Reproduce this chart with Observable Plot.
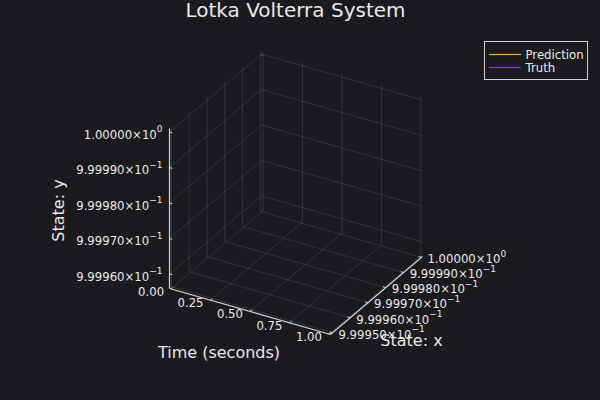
<!DOCTYPE html>
<html><head><meta charset="utf-8">
<script src="https://cdn.jsdelivr.net/npm/d3@7"></script>
<script src="https://cdn.jsdelivr.net/npm/@observablehq/plot@0.6"></script>
<style>
html,body{margin:0;padding:0;background:#1b1a1f;}
#chart{position:relative;width:600px;height:400px;font-family:"DejaVu Sans",sans-serif;overflow:hidden;}
#legend{position:absolute;left:484px;top:41px;width:102px;height:37px;border:1px solid #cfcfcf;background:#1b1a1f;}
#legend svg{position:absolute;left:0;top:0;}
</style></head><body><div id="chart"></div>
<script>
// ---- data ----
const title = "Lotka Volterra System";
const seriesNames = ["Prediction", "Truth"];
const prediction = [{t: 0, x: 1, y: 1}];
const truth = [{t: 0, x: 1, y: 1}];
const tTicks = [0, 0.25, 0.5, 0.75, 1];
const tTickLabels = ["0.00", "0.25", "0.50", "0.75", "1.00"];
const xTicks = [0.99995, 0.99996, 0.99997, 0.99998, 0.99999, 1.0];
const xTickLabels = ["9.99950×10^−1", "9.99960×10^−1", "9.99970×10^−1", "9.99980×10^−1", "9.99990×10^−1", "1.00000×10^0"];
const yTicks = [0.99996, 0.99997, 0.99998, 0.99999, 1.0];
const yTickLabels = ["9.99960×10^−1", "9.99970×10^−1", "9.99980×10^−1", "9.99990×10^−1", "1.00000×10^0"];
const tLimits = [-0.01, 1.01];
const xLimits = [0.9999489, 1.0000006];
const yLimits = [0.9999559, 1.0000010];
const axisTitles = {t: "Time (seconds)", x: "State: x", y: "State: y"};

// ---- style ----
const bg = "#1b1a1f";
const seriesColors = ["#f0b400", "#8c2be2"];
const fg = "#e8e8e8";

// ---- 3D projection (layout) ----
const O = [169, 288], T = [161, 46], X = [92, -78], Y = [0, -160];
const nt = d3.scaleLinear(tLimits, [0, 1]);
const nx = d3.scaleLinear(xLimits, [0, 1]);
const ny = d3.scaleLinear(yLimits, [0, 1]);
function proj(t, x, y) {
  const a = nt(t), b = nx(x), c = ny(y);
  return [O[0] + a * T[0] + b * X[0] + c * Y[0], O[1] + a * T[1] + b * X[1] + c * Y[1]];
}
function seg(p, q) { const A = proj(...p), B = proj(...q); return {x1: A[0], y1: A[1], x2: B[0], y2: B[1]}; }
const [t0, t1] = tLimits, [x0, x1] = xLimits, [y0, y1] = yLimits;

const grid = [];
for (const t of tTicks) { grid.push(seg([t, x1, y0], [t, x1, y1])); grid.push(seg([t, x0, y0], [t, x1, y0])); }
for (const x of xTicks) { grid.push(seg([t0, x, y0], [t0, x, y1])); grid.push(seg([t0, x, y0], [t1, x, y0])); }
for (const y of yTicks) { grid.push(seg([t0, x1, y], [t1, x1, y])); grid.push(seg([t0, x0, y], [t0, x1, y])); }

const axes = [seg([t0, x0, y0], [t0, x0, y1]), seg([t0, x0, y0], [t1, x0, y0]), seg([t1, x0, y0], [t1, x1, y0])];
const dt = (t1 - t0) * 0.018, dx = (x1 - x0) * 0.02;
const tickMarks = [
  ...yTicks.map(y => seg([t0, x0, y], [t0 + dt, x0, y])),
  ...tTicks.map(t => seg([t, x0, y0], [t, x0 + dx, y0])),
  ...xTicks.map(x => seg([t1, x, y0], [t1 - dt, x, y0]))
];
const yLab = yTicks.map((v, i) => { const p = proj(t0, x0, v); return {px: p[0], py: p[1], text: yTickLabels[i]}; });
const tLab = tTicks.map((v, i) => { const p = proj(v, x0, y0); return {px: p[0], py: p[1], text: tTickLabels[i]}; });
const xLab = xTicks.map((v, i) => { const p = proj(t1, v, y0); return {px: p[0], py: p[1], text: xTickLabels[i]}; });
const mid = (a, b) => [(a[0] + b[0]) / 2, (a[1] + b[1]) / 2];
const tMid = mid(proj(t0, x0, y0), proj(t1, x0, y0));
const xMid = mid(proj(t1, x0, y0), proj(t1, x1, y0));
const yMid = mid(proj(t0, x0, y0), proj(t0, x0, y1));
const series = [...prediction.map(d => ({...d, s: seriesNames[0]})), ...truth.map(d => ({...d, s: seriesNames[1]}))]
  .map(d => { const p = proj(d.t, d.x, d.y); return {...d, px: p[0], py: p[1]}; });

const plot = Plot.plot({
  width: 600, height: 400, margin: 0,
  x: {type: "identity", axis: null}, y: {type: "identity", axis: null},
  color: {domain: seriesNames, range: seriesColors},
  style: {background: bg, fontFamily: "DejaVu Sans", overflow: "visible"},
  marks: [
    Plot.link(grid, {x1: "x1", y1: "y1", x2: "x2", y2: "y2", stroke: "#ffffff", strokeOpacity: 0.1, strokeWidth: 1}),
    Plot.link(axes, {x1: "x1", y1: "y1", x2: "x2", y2: "y2", stroke: "#d4d4d4", strokeWidth: 1.2}),
    Plot.link(tickMarks, {x1: "x1", y1: "y1", x2: "x2", y2: "y2", stroke: "#d4d4d4", strokeWidth: 1}),
    Plot.line(series, {x: "px", y: "py", z: "s", stroke: "s", strokeWidth: 1}),
    Plot.text(yLab, {x: "px", y: "py", text: "text", textAnchor: "end", dx: -7, dy: 3, fill: fg, fontSize: 11.7}),
    Plot.text(tLab, {x: "px", y: "py", text: "text", textAnchor: "end", dx: -7, dy: 3, fill: fg, fontSize: 11.7}),
    Plot.text(xLab, {x: "px", y: "py", text: "text", textAnchor: "start", dx: 6, dy: 2, fill: fg, fontSize: 11.7}),
    Plot.text([axisTitles.t], {x: () => tMid[0], y: () => tMid[1], text: d => d, dx: -31, dy: 41, fill: fg, fontSize: 16}),
    Plot.text([axisTitles.x], {x: () => xMid[0], y: () => xMid[1], text: d => d, dx: 35, dy: 45, fill: fg, fontSize: 16}),
    Plot.text([axisTitles.y], {x: () => yMid[0], y: () => yMid[1], text: d => d, dx: -111, dy: 2, rotate: -90, fill: fg, fontSize: 16}),
    Plot.text([title], {frameAnchor: "top", dy: 2.5, dx: -5, text: d => d, fill: fg, fontSize: 20})
  ]
});

// superscript exponents as real tspans
d3.select(plot).selectAll("text").each(function () {
  const s = this.textContent;
  if (!s.includes("^")) return;
  const [m, e] = s.split("^");
  this.textContent = "";
  d3.select(this).append("tspan").text(m);
  d3.select(this).append("tspan").attr("font-size", "9px").attr("dy", "-6.5").text(e);
});

const chart = document.getElementById("chart");
chart.appendChild(plot);

// legend
const legend = d3.select(chart).append("div").attr("id", "legend");
const lsvg = legend.append("svg").attr("width", 102).attr("height", 37);
seriesNames.forEach((n, i) => {
  const y = 12.5 + i * 13;
  lsvg.append("line").attr("x1", 4).attr("x2", 36).attr("y1", y).attr("y2", y).attr("stroke", seriesColors[i]).attr("stroke-width", 1.2);
  lsvg.append("text").attr("x", 40.5).attr("y", y).attr("dy", "0.35em").attr("fill", fg)
    .attr("font-family", "DejaVu Sans").attr("font-size", 11.7).text(n);
});
</script>
</body></html>
